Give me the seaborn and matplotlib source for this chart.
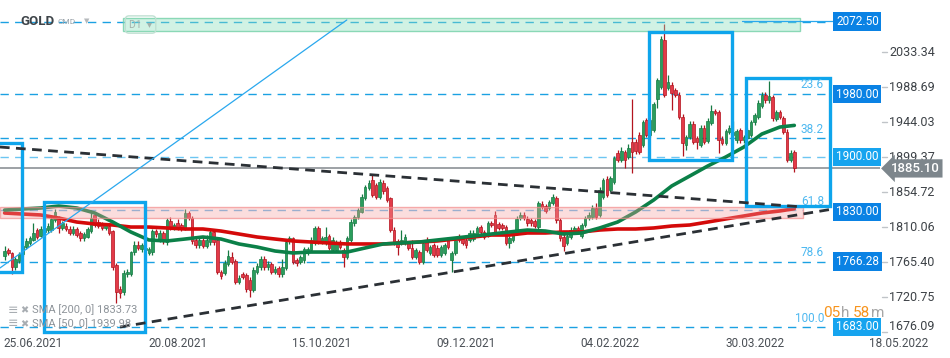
import numpy as np
import pandas as pd
import matplotlib.pyplot as plt
import matplotlib.patches as mpatches
import seaborn as sns

# --- DATA: daily GOLD candles (bar index 0 = first candle on screen) ---
opens = [
    1773, 1781, 1777, 1759, 1767, 1776, 1785, 1790, 1794, 1806,
    1799, 1804, 1806, 1806, 1819, 1822, 1809, 1812, 1808, 1803,
    1808, 1803, 1796, 1798, 1805, 1826, 1817, 1814, 1809, 1812,
    1805, 1762, 1731, 1727, 1750, 1750, 1778, 1787, 1782, 1781,
    1777, 1778, 1805, 1794, 1803, 1791, 1818, 1809, 1815, 1813,
    1809, 1828, 1822, 1794, 1787, 1794, 1786, 1791, 1804, 1794,
    1753, 1752, 1763, 1772, 1767, 1740, 1750, 1749, 1743, 1730,
    1753, 1759, 1770, 1759, 1763, 1753, 1758, 1750, 1758, 1792,
    1796, 1768, 1766, 1768, 1778, 1781, 1791, 1809, 1792, 1790,
    1799, 1781, 1781, 1791, 1781, 1772, 1794, 1815, 1823, 1830,
    1847, 1860, 1870, 1864, 1849, 1867, 1860, 1847, 1807, 1792,
    1791, 1791, 1790, 1784, 1772, 1778, 1766, 1794, 1777, 1787,
    1784, 1775, 1777, 1794, 1768, 1777, 1798, 1795, 1794, 1794,
    1795, 1800, 1810, 1804, 1800, 1815, 1826, 1814, 1813, 1810,
    1790, 1794, 1803, 1822, 1826, 1821, 1819, 1818, 1810, 1840,
    1837, 1835, 1841, 1847, 1819, 1798, 1790, 1798, 1804, 1809,
    1799, 1813, 1822, 1823, 1835, 1826, 1849, 1872, 1858, 1868,
    1905, 1896, 1906, 1900, 1919, 1919, 1928, 1915, 1947, 1928,
    1934, 1974, 1989, 2049, 1988, 1992, 1985, 1979, 1951, 1915,
    1925, 1942, 1924, 1915, 1937, 1920, 1943, 1958, 1957, 1923,
    1918, 1932, 1928, 1921, 1934, 1921, 1924, 1928, 1944, 1951,
    1965, 1979, 1972, 1976, 1948, 1957, 1949, 1932, 1896, 1906,
]
closes = [
    1780, 1777, 1759, 1770, 1776, 1786, 1792, 1796, 1803, 1798,
    1808, 1809, 1812, 1821, 1829, 1809, 1815, 1808, 1803, 1808,
    1800, 1796, 1801, 1808, 1822, 1813, 1812, 1809, 1813, 1803,
    1759, 1727, 1726, 1752, 1753, 1778, 1787, 1784, 1787, 1784,
    1782, 1805, 1801, 1803, 1792, 1819, 1809, 1813, 1810, 1808,
    1828, 1822, 1792, 1787, 1794, 1786, 1794, 1804, 1791, 1753,
    1748, 1764, 1773, 1766, 1740, 1745, 1747, 1731, 1730, 1756,
    1761, 1770, 1759, 1763, 1753, 1757, 1750, 1759, 1791, 1796,
    1766, 1764, 1772, 1782, 1782, 1794, 1809, 1792, 1796, 1798,
    1784, 1794, 1791, 1785, 1772, 1796, 1817, 1823, 1832, 1849,
    1861, 1867, 1851, 1849, 1868, 1856, 1845, 1807, 1791, 1785,
    1794, 1798, 1784, 1772, 1781, 1766, 1790, 1781, 1785, 1775,
    1775, 1785, 1787, 1785, 1777, 1794, 1794, 1790, 1787, 1803,
    1803, 1809, 1804, 1798, 1815, 1813, 1803, 1809, 1809, 1790,
    1796, 1803, 1821, 1826, 1822, 1815, 1815, 1812, 1841, 1836,
    1831, 1842, 1849, 1819, 1796, 1786, 1799, 1807, 1809, 1807,
    1813, 1822, 1826, 1835, 1823, 1858, 1870, 1851, 1873, 1898,
    1896, 1907, 1896, 1911, 1906, 1907, 1906, 1944, 1928, 1947,
    1967, 1998, 2050, 1979, 1995, 1981, 1979, 1951, 1918, 1925,
    1942, 1919, 1919, 1937, 1919, 1946, 1958, 1956, 1921, 1918,
    1933, 1937, 1932, 1933, 1921, 1925, 1934, 1944, 1953, 1969,
    1979, 1972, 1977, 1949, 1957, 1951, 1932, 1896, 1905, 1885,
]
highs = [
    1786, 1784, 1779, 1772, 1779, 1789, 1796, 1799, 1815, 1809,
    1811, 1812, 1815, 1824, 1833, 1824, 1818, 1815, 1811, 1811,
    1810, 1805, 1804, 1810, 1832, 1829, 1820, 1817, 1816, 1815,
    1807, 1765, 1735, 1755, 1757, 1780, 1792, 1792, 1790, 1788,
    1785, 1808, 1808, 1806, 1805, 1822, 1823, 1816, 1820, 1816,
    1833, 1831, 1824, 1797, 1798, 1797, 1800, 1807, 1806, 1796,
    1756, 1768, 1781, 1778, 1770, 1749, 1753, 1752, 1746, 1759,
    1764, 1773, 1773, 1767, 1766, 1761, 1761, 1770, 1794, 1799,
    1798, 1771, 1775, 1785, 1785, 1797, 1812, 1811, 1799, 1810,
    1802, 1797, 1794, 1794, 1784, 1799, 1820, 1826, 1835, 1852,
    1864, 1870, 1877, 1867, 1871, 1870, 1863, 1849, 1810, 1795,
    1806, 1801, 1793, 1794, 1784, 1781, 1793, 1797, 1788, 1790,
    1787, 1788, 1790, 1797, 1780, 1797, 1801, 1798, 1797, 1806,
    1806, 1812, 1813, 1807, 1818, 1818, 1831, 1817, 1816, 1813,
    1799, 1806, 1824, 1829, 1829, 1824, 1822, 1821, 1844, 1843,
    1840, 1845, 1852, 1850, 1822, 1801, 1802, 1810, 1812, 1812,
    1816, 1825, 1829, 1838, 1841, 1861, 1873, 1875, 1876, 1901,
    1908, 1913, 1909, 1916, 1974, 1922, 1931, 1947, 1950, 1950,
    1970, 2001, 2054, 2070, 2004, 1995, 1988, 1982, 1954, 1928,
    1945, 1945, 1927, 1940, 1940, 1949, 1966, 1961, 1960, 1926,
    1936, 1940, 1945, 1936, 1937, 1928, 1937, 1947, 1956, 1972,
    1982, 1982, 1997, 1979, 1960, 1960, 1952, 1935, 1908, 1909,
]
lows = [
    1768, 1774, 1750, 1756, 1764, 1773, 1782, 1787, 1792, 1795,
    1797, 1801, 1803, 1804, 1817, 1803, 1806, 1805, 1800, 1800,
    1797, 1793, 1793, 1796, 1803, 1810, 1809, 1806, 1806, 1800,
    1756, 1713, 1720, 1724, 1747, 1748, 1775, 1781, 1779, 1778,
    1774, 1775, 1798, 1791, 1789, 1788, 1806, 1806, 1807, 1805,
    1807, 1819, 1789, 1784, 1784, 1783, 1783, 1788, 1788, 1750,
    1744, 1749, 1760, 1763, 1737, 1737, 1744, 1728, 1721, 1727,
    1750, 1756, 1755, 1756, 1750, 1750, 1747, 1747, 1755, 1789,
    1763, 1761, 1763, 1765, 1775, 1778, 1788, 1789, 1789, 1787,
    1781, 1778, 1778, 1782, 1759, 1769, 1791, 1812, 1820, 1828,
    1845, 1857, 1848, 1846, 1846, 1853, 1842, 1804, 1788, 1774,
    1788, 1788, 1781, 1769, 1769, 1763, 1763, 1778, 1774, 1772,
    1772, 1772, 1774, 1782, 1753, 1774, 1791, 1787, 1784, 1791,
    1792, 1797, 1801, 1795, 1797, 1810, 1800, 1806, 1806, 1787,
    1784, 1791, 1800, 1819, 1819, 1812, 1812, 1809, 1807, 1833,
    1828, 1832, 1838, 1816, 1793, 1780, 1787, 1795, 1801, 1804,
    1796, 1810, 1819, 1820, 1820, 1823, 1846, 1848, 1855, 1865,
    1893, 1893, 1885, 1897, 1879, 1904, 1903, 1912, 1925, 1925,
    1931, 1962, 1986, 1976, 1985, 1960, 1976, 1948, 1901, 1908,
    1922, 1916, 1910, 1912, 1916, 1917, 1940, 1953, 1905, 1915,
    1915, 1929, 1925, 1918, 1918, 1918, 1921, 1925, 1941, 1948,
    1962, 1969, 1969, 1946, 1945, 1948, 1929, 1893, 1893, 1880,
]

# moving averages every 5 bars
sma_bars = list(range(0, 220, 5)) + [219]
sma200 = [
    1828.2, 1826.9, 1825.7, 1821.8, 1816.7, 1814.2, 1812.9, 1810.3, 1810.3, 1809.1,
    1807.8, 1807.8, 1805.2, 1801.4, 1797.6, 1795.0, 1792.5, 1791.2, 1789.9, 1788.7,
    1788.7, 1788.7, 1789.9, 1791.2, 1792.5, 1795.0, 1797.6, 1800.1, 1800.1, 1802.7,
    1802.7, 1804.0, 1804.0, 1806.5, 1807.8, 1807.8, 1809.1, 1811.6, 1812.9, 1816.7,
    1820.6, 1824.4, 1828.2, 1830.8, 1833.7,
]
sma50 = [
    1832.0, 1833.3, 1834.6, 1837.1, 1834.6, 1828.2, 1816.7, 1804.0, 1793.8, 1792.5,
    1795.0, 1797.6, 1795.0, 1788.7, 1784.8, 1779.7, 1777.2, 1778.4, 1778.4, 1778.4,
    1783.6, 1788.7, 1789.9, 1791.2, 1793.8, 1796.3, 1798.9, 1801.4, 1804.0, 1806.5,
    1805.2, 1801.4, 1802.7, 1809.1, 1816.7, 1829.5, 1844.8, 1862.7, 1875.4, 1888.2,
    1899.7, 1912.4, 1929.0, 1937.9, 1940.0,
]

# horizontal levels and fibonacci retracement
level_prices = [2072.50, 1980.00, 1900.00, 1830.00, 1766.28, 1683.00]
level_labels = ["2072.50", "1980.00", "1900.00", "1830.00", "1766.28", "1683.00"]
fib_prices = [1980.6, 1923.7, 1831.8, 1766.3, 1683.0]
fib_labels = ["23.6", "38.2", "61.8", "78.6", "100.0"]
axis_ticks = [2033.34, 1988.69, 1944.03, 1899.37, 1854.72, 1810.06, 1765.40, 1720.75, 1676.09]
last_price = 1885.10

date_bars = [8, 48, 88, 128, 168, 208, 248]
date_labels = ["25.06.2021", "20.08.2021", "15.10.2021", "09.12.2021",
               "04.02.2022", "30.03.2022", "18.05.2022"]

# drawn objects: boxes (bar0, bar1, price0, price1), trend lines (bar0, p0, bar1, p1)
box_x0 = [-6, 10.9, 178.7, 205.6]
box_x1 = [4.8, 38.9, 201.7, 228.9]
box_y0 = [1752.9, 1676.4, 1895.8, 1837.1]
box_y1 = [1917.9, 1842.2, 2059.2, 2000.5]
trend_down = [-1.3, 1912.4, 221.4, 1835.9]
trend_up = [32.0, 1682.7, 229.7, 1833.3]
ray_line = [-1.3, 1758.0, 94.9, 2074.5]
support_zone = [1821.8, 1835.3]
resist_zone = [2060.4, 2077.0]

# --- STYLE ---
sns.set_theme(style="white")
plt.rcParams['font.family'] = ['Roboto', 'DejaVu Sans']

BLUE = '#1ba1e2'
BOX_BLUE = '#0ea5ec'

fig = plt.figure(figsize=(9.5, 3.58), dpi=100)
ax = fig.add_axes([0, 0, 1, 1])
W = 950.0


def fx(px):
    return px / W


def bx(px):
    # pixel x -> bar index
    return (px - 4.6) / 3.606


yt = ax.get_yaxis_transform()

# level lines
for p in [2072.5, 1980.3, 1923.7, 1766.3, 1683.0]:
    ax.hlines(p, bx(0), bx(826), colors=BLUE, linewidth=1, linestyles=(0, (6, 4.5)), zorder=2)
ax.hlines(1900.0, bx(0), bx(826), colors='#6cc6f2', linewidth=1, linestyles=(0, (6, 4.5)), zorder=2)
ax.hlines(1831.8, bx(0), bx(803), colors='#6cb8e8', linewidth=1, linestyles=(0, (6, 4.5)), zorder=2)
ax.hlines(last_price, bx(0), bx(880), colors='#8c9196', linewidth=1.2, zorder=2)

# candles
o = np.array(opens, float)
c = np.array(closes, float)
h = np.array(highs, float)
l = np.array(lows, float)
bars = np.arange(len(c))
up = c >= o
face = np.where(up, '#2a9d5c', '#e33a48')
edge = np.where(up, '#167a43', '#b3141f')
ax.vlines(bars, l, h, colors=edge, linewidth=0.9, zorder=3)
ax.bar(bars, np.maximum(np.abs(c - o), 0.8), bottom=np.minimum(o, c), width=0.72,
       color=face, edgecolor=edge, linewidth=0.5, zorder=4)

# moving averages
sma_df = pd.DataFrame({'bar': sma_bars, 'sma200': sma200, 'sma50': sma50})
sns.lineplot(data=sma_df, x='bar', y='sma200', color='#d40a0a', linewidth=2.6, ax=ax, zorder=5)
sns.lineplot(data=sma_df, x='bar', y='sma50', color='#0b8048', linewidth=2.6, ax=ax, zorder=5)

# zones
ax.add_patch(mpatches.Rectangle((bx(0), support_zone[0]), bx(803) - bx(0), support_zone[1] - support_zone[0],
                                facecolor=(0.96, 0.62, 0.62, 0.35), edgecolor=(0.95, 0.55, 0.55, 0.7),
                                linewidth=1, zorder=6))
ax.add_patch(mpatches.Rectangle((bx(123), resist_zone[0]), bx(800) - bx(123), resist_zone[1] - resist_zone[0],
                                facecolor=(0.55, 0.88, 0.74, 0.4), edgecolor=(0.45, 0.82, 0.66, 0.8),
                                linewidth=1, zorder=6))

# boxes
for x0, x1, y0, y1 in zip(box_x0, box_x1, box_y0, box_y1):
    ax.add_patch(mpatches.Rectangle((x0, y0), x1 - x0, y1 - y0, fill=False,
                                    edgecolor=BOX_BLUE, linewidth=2.4, zorder=7))

# trend lines
for t in (trend_down, trend_up):
    ax.plot([t[0], t[2]], [t[1], t[3]], color='#2b3035', linewidth=2,
            linestyle=(0, (3.5, 2.3)), zorder=8)
ax.plot([ray_line[0], ray_line[2]], [ray_line[1], ray_line[3]], color='#2aa8ee', linewidth=0.9, zorder=8)
ax.plot([bx(742), bx(833)], [2073.3, 2073.3], color='#2aa8ee', linewidth=0.9, zorder=8)

# fib labels
for p, lab in zip(fib_prices, fib_labels):
    ax.annotate(lab, (fx(824), p), xycoords=yt, xytext=(0, 1.5), textcoords='offset points',
                ha='right', va='bottom', fontsize=8.5, color='#4db8f0', zorder=10)

# level boxes on the right
level_colors = ['#0a82e4', '#0a82e4', '#16a4ef', '#0a82e4', '#0a82e4', '#16a4ef']
for p, lab, col in zip(level_prices, level_labels, level_colors):
    ax.text(fx(836), p, lab, transform=yt, ha='left', va='center', fontsize=8.5, color='white',
            bbox=dict(boxstyle='square,pad=0.22', fc=col, ec='none'), zorder=11)

# price axis labels
for p in axis_ticks:
    off = 4 if p < 1680 else 0
    ax.plot([fx(882), fx(887)], [p, p], transform=yt, color='#c0c4c8', linewidth=1, zorder=10)
    ax.annotate(f"{p:.2f}", (fx(889), p), xycoords=yt, xytext=(0, off), textcoords='offset points',
                ha='left', va='center', fontsize=9, color='#3d4247', zorder=10)

ax.text(fx(891), last_price, f"{last_price:.2f}", transform=yt, ha='left', va='center',
        fontsize=9.5, color='white', fontweight='medium',
        bbox=dict(boxstyle='larrow,pad=0.2', fc='#7d868c', ec='none'), zorder=12)

# date labels
for b, lab in zip(date_bars, date_labels):
    ax.text(b, 1662.3, lab, ha='center', va='center', fontsize=8.5, color='#4a4f55', zorder=10)

# legend of indicators
for p, lab in [(1704.4, "SMA [200, 0] 1833.73"), (1686.6, "SMA [50, 0] 1939.98")]:
    ax.text(fx(8), p, "≡", transform=yt, ha='left', va='center', fontsize=9, color='#a8adb2', zorder=10)
    ax.text(fx(20), p, "✖", transform=yt, ha='left', va='center', fontsize=7, color='#a8adb2', zorder=10)
    ax.text(fx(32), p, lab, transform=yt, ha='left', va='center', fontsize=8, color='#8e949a', zorder=10)

# header
ax.text(fx(20), 2072.5, "GOLD", transform=yt, ha='left', va='center', fontsize=9.5,
        fontweight='bold', color='#3e4449', zorder=10)
ax.text(fx(58), 2071.5, "CMD", transform=yt, ha='left', va='center', fontsize=6, color='#9aa3aa', zorder=10)
ax.text(fx(84), 2073, "▼", transform=yt, ha='left', va='center', fontsize=5, color='#b5b9bc', zorder=10)
ax.text(fx(129), 2068.7, "D1  ▾", transform=yt, ha='left', va='center', fontsize=7.5, color='#a4b2ac',
        bbox=dict(boxstyle='round,pad=0.35', fc='none', ec='#bfe0d2'), zorder=10)

# timer
for px, s, col in [(823, "05", '#f7941d'), (841, "h", '#a6a6a6'), (853, "58", '#f7941d'), (871, "m", '#a6a6a6')]:
    ax.text(fx(px), 1700.6, s, transform=yt, ha='left', va='center', fontsize=11, color=col, zorder=10)

ax.set_xlim(bx(0), bx(W))
ax.set_ylim(2100 - 1.276 * 358, 2100)
ax.axis('off')

fig.savefig('out.png', dpi=100)
